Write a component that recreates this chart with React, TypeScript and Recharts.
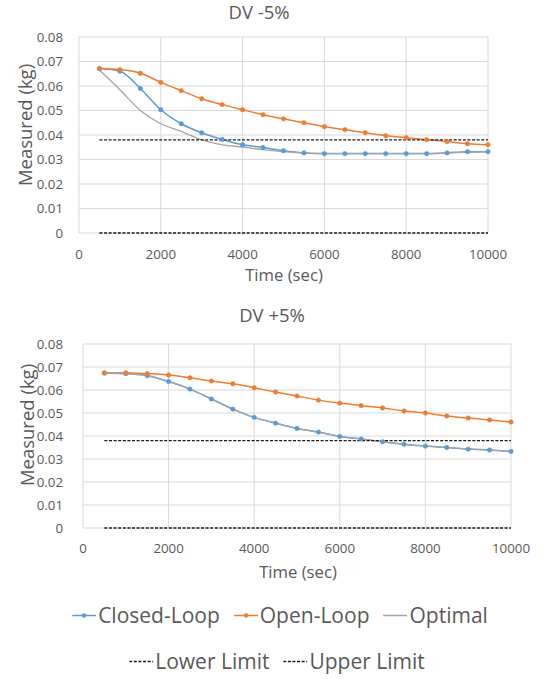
import React from "react";
import { CartesianGrid, Line, LineChart, XAxis, YAxis } from "recharts";

const times = [500, 1000, 1500, 2000, 2500, 3000, 3500, 4000, 4500, 5000, 5500, 6000, 6500, 7000, 7500, 8000, 8500, 9000, 9500, 10000];

// DV -5%
const closedMinus = [0.0671, 0.066, 0.059, 0.0503, 0.0446, 0.0409, 0.0382, 0.036, 0.0349, 0.0336, 0.0327, 0.0324, 0.0324, 0.0324, 0.0324, 0.0324, 0.0324, 0.0327, 0.0332, 0.0332];
const openMinus = [0.0671, 0.0667, 0.0652, 0.0615, 0.0581, 0.0548, 0.0524, 0.0503, 0.0483, 0.0466, 0.045, 0.0434, 0.0422, 0.0409, 0.0397, 0.0389, 0.0381, 0.0373, 0.0364, 0.036];
const optimalMinus = [0.0665, 0.0585, 0.05, 0.0446, 0.0415, 0.038, 0.036, 0.0351, 0.034, 0.0332, 0.0326, 0.0324, 0.0324, 0.0324, 0.0324, 0.0324, 0.0324, 0.0326, 0.033, 0.0331];

// DV +5%
const closedPlus = [0.0674, 0.0671, 0.0662, 0.0637, 0.0604, 0.0561, 0.0517, 0.0481, 0.0456, 0.0433, 0.0417, 0.0398, 0.0387, 0.0375, 0.0364, 0.0356, 0.035, 0.0343, 0.0339, 0.0333];
const openPlus = [0.0674, 0.0675, 0.0671, 0.0665, 0.0653, 0.0639, 0.0627, 0.061, 0.0591, 0.0574, 0.0556, 0.0543, 0.0532, 0.0522, 0.0509, 0.05, 0.0487, 0.0478, 0.047, 0.0461];
const optimalPlus = [0.0674, 0.0671, 0.0662, 0.0637, 0.0604, 0.0561, 0.0517, 0.0481, 0.0456, 0.0433, 0.0417, 0.0398, 0.0387, 0.0375, 0.0364, 0.0356, 0.035, 0.0343, 0.0339, 0.0333];

const upperLimit = [0.038, 0.038, 0.038, 0.038, 0.038, 0.038, 0.038, 0.038, 0.038, 0.038, 0.038, 0.038, 0.038, 0.038, 0.038, 0.038, 0.038, 0.038, 0.038, 0.038];
const lowerLimit = [0, 0, 0, 0, 0, 0, 0, 0, 0, 0, 0, 0, 0, 0, 0, 0, 0, 0, 0, 0];

const xTicks = [0, 2000, 4000, 6000, 8000, 10000];
const yTicks = [0, 0.01, 0.02, 0.03, 0.04, 0.05, 0.06, 0.07, 0.08];

const FONT = "'Open Sans', sans-serif";
const TEXT = "#595959";
const BLUE = "#5b9bd5";
const ORANGE = "#ed7d31";
const GRAY = "#a5a5a5";
const DASH = "#1a1a1a";

function rows(closed: number[], open: number[], optimal: number[]) {
    return times.map((t, i) => ({
        t,
        closed: closed[i],
        open: open[i],
        optimal: optimal[i],
        lower: lowerLimit[i],
        upper: upperLimit[i],
    }));
}

type PanelProps = {
    data: ReturnType<typeof rows>;
    top: number;
    height: number;
    marginTop: number;
    marginRight: number;
    yWidth: number;
    xHeight: number;
    xTickMargin: number;
    yTickMargin: number;
};

function Panel({ data, top, height, marginTop, marginRight, yWidth, xHeight, xTickMargin, yTickMargin }: PanelProps) {
    const tick = { fontSize: 13.3, fill: TEXT, fontFamily: FONT };
    return (
        <div style={{ position: "absolute", left: 0, top }}>
            <LineChart width={543} height={height} data={data} margin={{ top: marginTop, right: marginRight, bottom: 0, left: 0 }}>
                <CartesianGrid stroke="#d9d9d9" strokeWidth={1} />
                <XAxis
                    dataKey="t"
                    type="number"
                    domain={[0, 10000]}
                    ticks={xTicks}
                    height={xHeight}
                    tick={tick}
                    tickLine={false}
                    axisLine={false}
                    tickSize={0}
                    tickMargin={xTickMargin}
                    interval={0}
                />
                <YAxis
                    type="number"
                    domain={[0, 0.08]}
                    ticks={yTicks}
                    width={yWidth}
                    tick={tick}
                    tickLine={false}
                    axisLine={false}
                    tickSize={0}
                    tickMargin={yTickMargin}
                    interval={0}
                    tickFormatter={(v: number) => (v === 0 ? "0" : v.toFixed(2))}
                />
                <Line dataKey="closed" type="monotone" stroke={BLUE} strokeWidth={1.5} dot={{ r: 2.2, fill: BLUE, stroke: BLUE, strokeWidth: 0.6 }} activeDot={false} isAnimationActive={false} />
                <Line dataKey="open" type="monotone" stroke={ORANGE} strokeWidth={1.5} dot={{ r: 2.2, fill: ORANGE, stroke: ORANGE, strokeWidth: 0.6 }} activeDot={false} isAnimationActive={false} />
                <Line dataKey="optimal" type="monotone" stroke={GRAY} strokeWidth={1.3} dot={false} activeDot={false} isAnimationActive={false} />
                <Line dataKey="lower" type="linear" stroke={DASH} strokeWidth={1.3} strokeDasharray="3 1.6" dot={false} activeDot={false} isAnimationActive={false} />
                <Line dataKey="upper" type="linear" stroke={DASH} strokeWidth={1.3} strokeDasharray="3 1.6" dot={false} activeDot={false} isAnimationActive={false} />
            </LineChart>
        </div>
    );
}

function Label({ text, x, y, size, rotate }: { text: string; x: number; y: number; size: number; rotate?: boolean }) {
    return (
        <div
            style={{
                position: "absolute",
                left: x,
                top: y,
                transform: `translate(-50%, -50%)${rotate ? " rotate(-90deg)" : ""}`,
                fontSize: size,
                lineHeight: 1.2,
                color: TEXT,
                whiteSpace: "nowrap",
            }}
        >
            {text}
        </div>
    );
}

function LegendIcon({ color, marker, dashed }: { color: string; marker?: boolean; dashed?: boolean }) {
    return (
        <svg width={24} height={10} style={{ display: "block", marginRight: 2 }}>
            <line x1={0} y1={5} x2={24} y2={5} stroke={color} strokeWidth={dashed ? 1.3 : 1.5} strokeDasharray={dashed ? "3 1.6" : undefined} />
            {marker && <circle cx={12} cy={5} r={2.2} fill={color} />}
        </svg>
    );
}

function LegendRow({ cx, cy, items }: { cx: number; cy: number; items: { label: string; color: string; marker?: boolean; dashed?: boolean }[] }) {
    return (
        <div
            style={{
                position: "absolute",
                left: cx,
                top: cy,
                transform: "translate(-50%, -50%)",
                display: "flex",
                alignItems: "center",
                gap: 14,
                fontSize: 21,
                lineHeight: 1,
                color: TEXT,
                whiteSpace: "nowrap",
            }}
        >
            {items.map((it) => (
                <div key={it.label} style={{ display: "flex", alignItems: "center" }}>
                    <LegendIcon color={it.color} marker={it.marker} dashed={it.dashed} />
                    <span>{it.label}</span>
                </div>
            ))}
        </div>
    );
}

export default function App() {
    const minus = rows(closedMinus, openMinus, optimalMinus);
    const plus = rows(closedPlus, openPlus, optimalPlus);
    return (
        <div style={{ position: "absolute", left: 0, top: 0, width: 543, height: 679, background: "#fff", fontFamily: FONT, overflow: "hidden" }}>
            <Panel data={minus} top={0} height={290} marginTop={37} marginRight={55} yWidth={79} xHeight={57} xTickMargin={17} yTickMargin={16} />
            <Panel data={plus} top={300} height={290} marginTop={44} marginRight={32} yWidth={83} xHeight={62} xTickMargin={16} yTickMargin={20} />

            <Label text="DV -5%" x={259} y={12} size={18.5} />
            <Label text="Time (sec)" x={284} y={275} size={16.7} />
            <Label text="Measured (kg)" x={24.5} y={125} size={18.5} rotate />

            <Label text="DV +5%" x={272} y={315} size={18.5} />
            <Label text="Time (sec)" x={298} y={572} size={16.7} />
            <Label text="Measured (kg)" x={26.5} y={425} size={18.5} rotate />

            <LegendRow
                cx={280}
                cy={615}
                items={[
                    { label: "Closed-Loop", color: BLUE, marker: true },
                    { label: "Open-Loop", color: ORANGE, marker: true },
                    { label: "Optimal", color: GRAY },
                ]}
            />
            <LegendRow
                cx={277}
                cy={661}
                items={[
                    { label: "Lower Limit", color: DASH, dashed: true },
                    { label: "Upper Limit", color: DASH, dashed: true },
                ]}
            />
        </div>
    );
}
